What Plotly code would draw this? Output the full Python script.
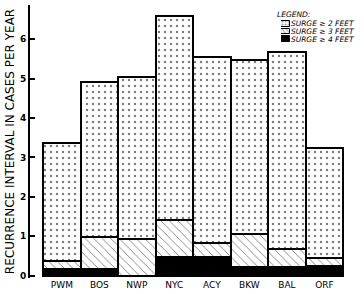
import plotly.graph_objects as go

stations = ["PWM", "BOS", "NWP", "NYC", "ACY", "BKW", "BAL", "ORF"]
surge_2ft = [3.36, 4.92, 5.03, 6.59, 5.56, 5.48, 5.67, 3.25]
surge_3ft = [0.36, 0.99, 0.92, 1.40, 0.84, 1.06, 0.67, 0.44]
surge_4ft = [0.17, 0.17, 0.0, 0.48, 0.48, 0.23, 0.23, 0.25]

legend_labels = ["SURGE \u2265 2 FEET", "SURGE \u2265 3 FEET", "SURGE \u2265 4 FEET"]
legend_swatch = [1, 1, 1]

FONT = "DejaVu Sans"

fig = go.Figure()

fig.add_trace(go.Bar(
    x=stations, y=surge_2ft, name=legend_labels[0],
    marker=dict(color="white", line=dict(color="black", width=2),
                pattern=dict(shape=".", fgcolor="black", bgcolor="white", size=6, solidity=0.14)),
    showlegend=False))
fig.add_trace(go.Bar(
    x=stations, y=surge_3ft, name=legend_labels[1],
    marker=dict(color="white", line=dict(color="black", width=2),
                pattern=dict(shape="\\", fgcolor="black", bgcolor="white", size=6, solidity=0.15)),
    showlegend=False))
fig.add_trace(go.Bar(
    x=stations, y=surge_4ft, name=legend_labels[2],
    marker=dict(color="black", line=dict(color="black", width=2)),
    showlegend=False))

# legend swatches in a small inset
fig.add_trace(go.Bar(
    x=legend_swatch, y=legend_labels, orientation="h", xaxis="x2", yaxis="y2",
    width=0.7,
    marker=dict(color=["white", "white", "black"], line=dict(color="black", width=1),
                pattern=dict(shape=[".", "\\", ""], fgcolor="black", bgcolor="white",
                             size=3, solidity=0.3)),
    showlegend=False, hoverinfo="skip"))

fig.update_layout(
    width=364, height=294,
    margin=dict(l=30, r=19, t=5, b=16),
    paper_bgcolor="white", plot_bgcolor="white",
    barmode="overlay", bargap=0,
    font=dict(family=FONT, color="black"),
    xaxis=dict(range=[-0.85, 7.55], showline=False, showgrid=False, zeroline=False,
               automargin=False,
               ticks="", tickfont=dict(size=9, family=FONT), ticklabelstandoff=0),
    yaxis=dict(range=[-0.06, 6.87], showline=True, linecolor="black", linewidth=2,
               automargin=False,
               showgrid=False, zeroline=False, ticks="inside", ticklen=5, tickwidth=2,
               tickcolor="black", tickvals=[0, 1, 2, 3, 4, 5, 6],
               tickfont=dict(size=9, family=FONT, weight="bold"),
               title=dict(text="RECURRENCE INTERVAL IN CASES PER YEAR",
                          font=dict(size=12, family=FONT), standoff=3)),
    xaxis2=dict(domain=[0.797, 0.825], range=[0, 1], visible=False, anchor="y2"),
    yaxis2=dict(domain=[0.861, 0.945], anchor="x2", side="right", autorange="reversed",
                showline=False, showgrid=False, zeroline=False, ticks="",
                tickmode="array", tickvals=legend_labels, automargin=False,
                tickfont=dict(size=7.5, family=FONT, style="italic")),
    annotations=[dict(text="LEGEND:", x=0.778, y=0.967, xref="paper", yref="paper",
                      xanchor="left", yanchor="middle", showarrow=False,
                      font=dict(size=7.5, family=FONT, style="italic"))],
)

fig.write_html("out.html", config={"displayModeBar": False},
               post_script="document.body.style.margin='0';")
